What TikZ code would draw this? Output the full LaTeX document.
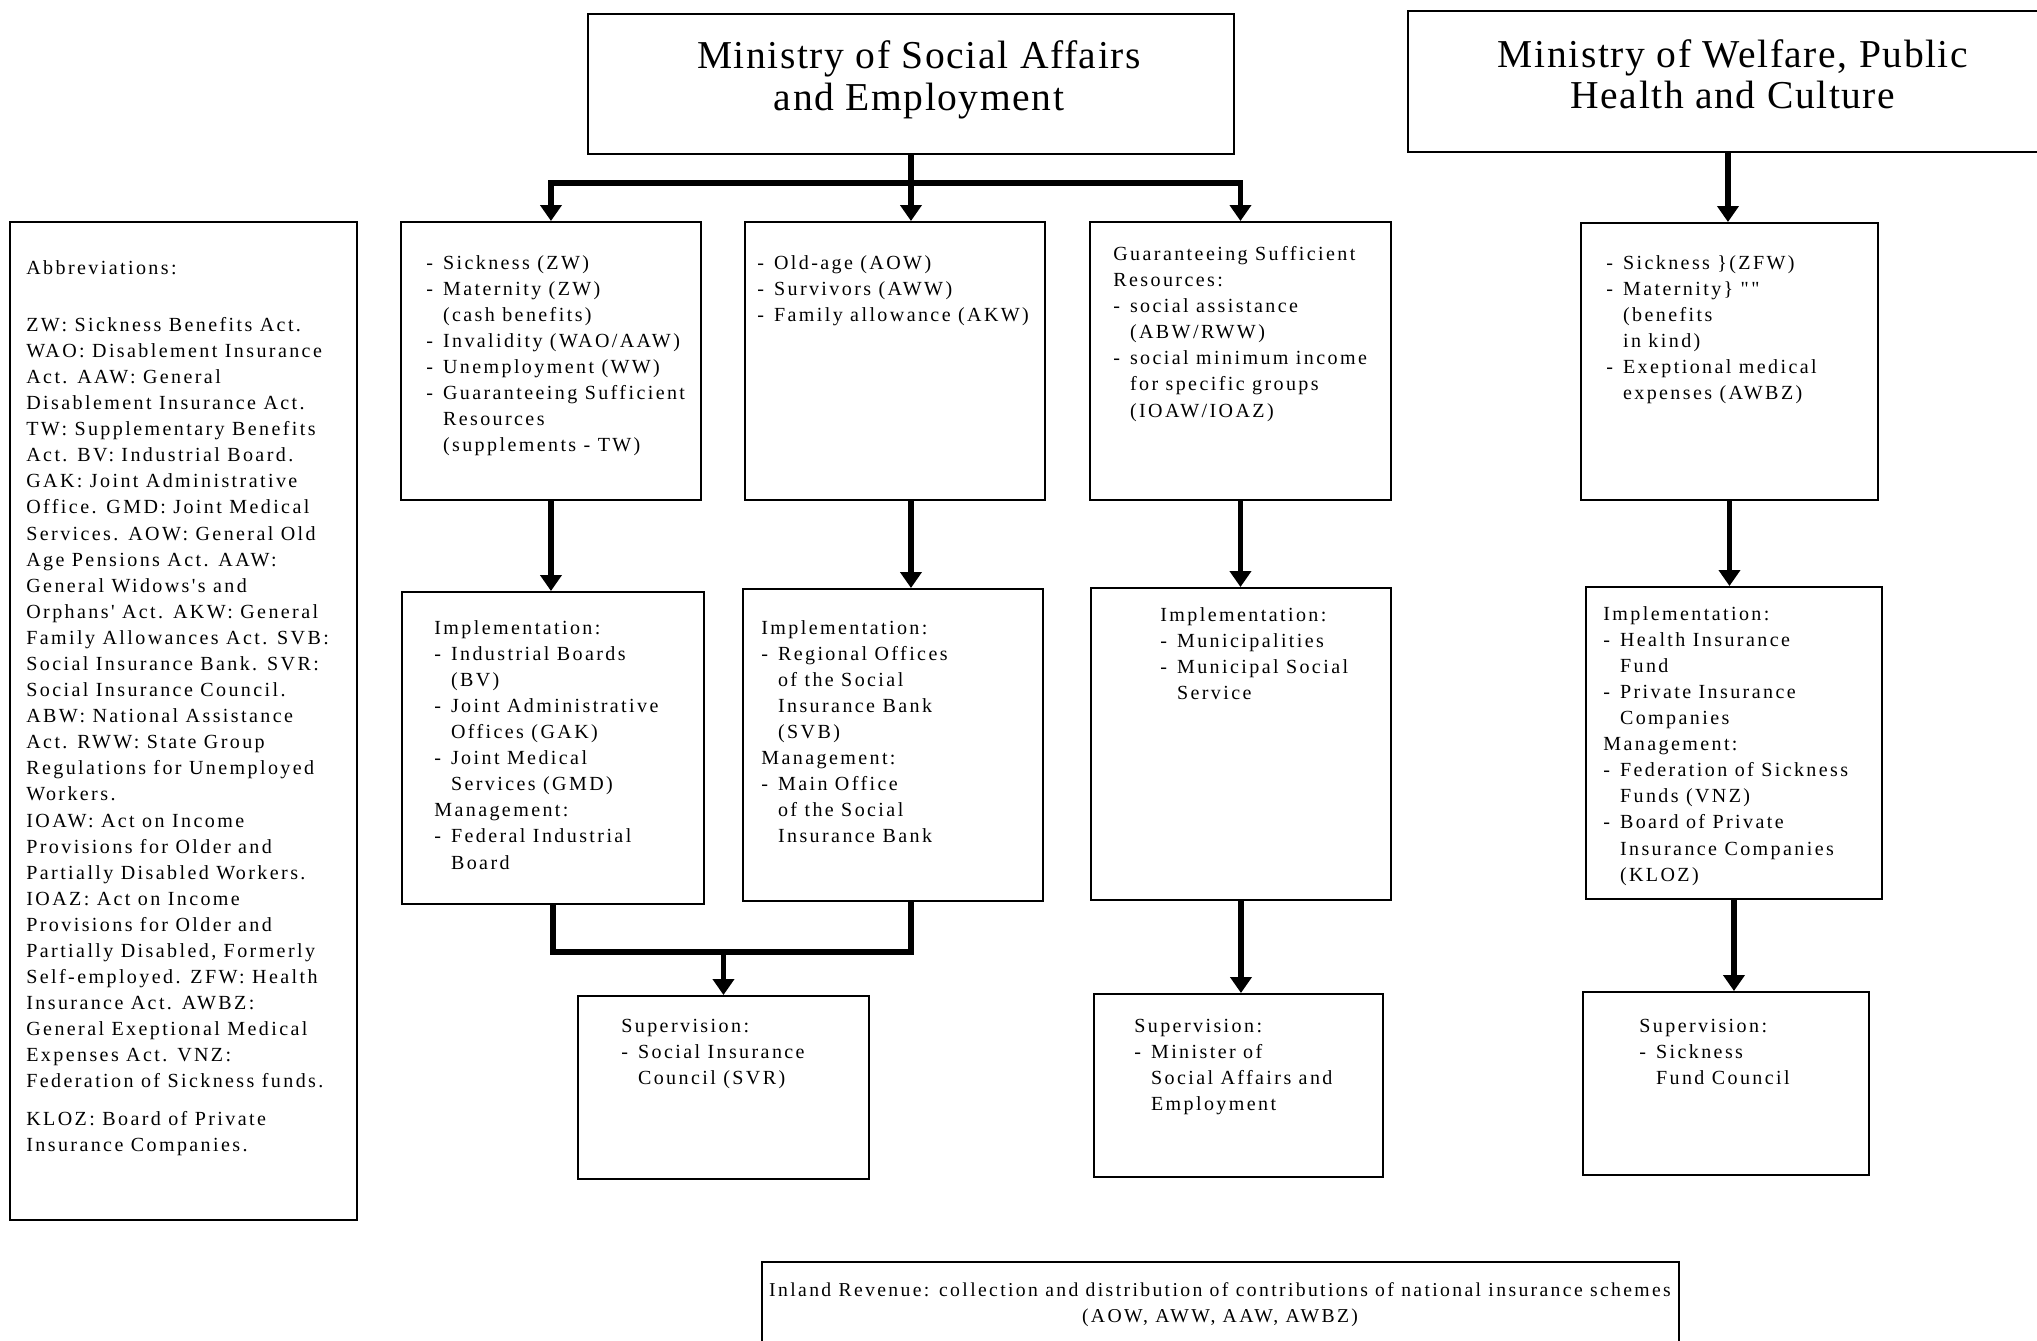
\documentclass[tikz,border=0pt]{standalone}
\usepackage{fontspec}
\setmainfont{Liberation Serif}
\newfontfamily\boxfont{Liberation Serif}[LetterSpace=12]
\newfontfamily\titlefont{Liberation Serif}[LetterSpace=4]
\usetikzlibrary{arrows.meta}
\newcommand{\dsh}{\makebox[9.5pt][l]{-}}
\newcommand{\ind}{\hspace*{9.5pt}}

\begin{document}
\begin{tikzpicture}[x=0.02cm, y=-0.02cm,
    box/.style={draw, line width=1.1pt, inner sep=0pt, anchor=north west},
    sz/.style 2 args={minimum width=#1*0.02cm, minimum height=#2*0.02cm},
    txt/.style={anchor=north west, inner sep=0pt, align=left, font=\boxfont\fontsize{11.4}{14.85}\selectfont},
    ttl/.style={inner sep=0pt, align=center, font=\titlefont\fontsize{22.5}{23.6}\selectfont},
    conn/.style={line width=3pt},
    arr/.style={line width=3pt, -{Triangle[length=3.2mm,width=4.2mm]}}
  ]
    \useasboundingbox (0,0) rectangle (2037,1340);
    \fill[white] (0,0) rectangle (2037,1340);

    \node[box, sz={646}{140}] (SAE) at (587,13) {};
    \node[box, sz={640}{141}] (WPHC) at (1407,10) {};
    \node[box, sz={347}{998}] (ABB) at (9,221) {};
    \node[box, sz={300}{278}] (A1) at (400,221) {};
    \node[box, sz={300}{278}] (A2) at (744,221) {};
    \node[box, sz={301}{278}] (A3) at (1089,221) {};
    \node[box, sz={297}{277}] (A4) at (1580,222) {};
    \node[box, sz={302}{312}] (B1) at (401,591) {};
    \node[box, sz={300}{312}] (B2) at (742,588) {};
    \node[box, sz={300}{312}] (B3) at (1090,587) {};
    \node[box, sz={296}{312}] (B4) at (1585,586) {};
    \node[box, sz={291}{183}] (C1) at (577,995) {};
    \node[box, sz={289}{183}] (C3) at (1093,993) {};
    \node[box, sz={286}{183}] (C4) at (1582,991) {};
    \node[box, sz={917}{120}] (IR) at (761,1261) {};

    \node[ttl] (tSAE) at (919,80) {Ministry of Social Affairs\\and Employment};
    \node[ttl] (tWPHC) at (1733,74) {Ministry of Welfare, Public\\Health and Culture};

    \node[txt] (tABB) at (26,260) {Abbreviations:\\[17.6pt]
      ZW: Sickness Benefits Act.\\
      WAO: Disablement Insurance\\
      Act. AAW: General\\
      Disablement Insurance Act.\\
      TW: Supplementary Benefits\\
      Act. BV: Industrial Board.\\
      GAK: Joint Administrative\\
      Office. GMD: Joint Medical\\
      Services. AOW: General Old\\
      Age Pensions Act. AAW:\\
      General Widows's and\\
      Orphans' Act. AKW: General\\
      Family Allowances Act. SVB:\\
      Social Insurance Bank. SVR:\\
      Social Insurance Council.\\
      ABW: National Assistance\\
      Act. RWW: State Group\\
      Regulations for Unemployed\\
      Workers.\\
      IOAW: Act on Income\\
      Provisions for Older and\\
      Partially Disabled Workers.\\
      IOAZ: Act on Income\\
      Provisions for Older and\\
      Partially Disabled, Formerly\\
      Self-employed. ZFW: Health\\
      Insurance Act. AWBZ:\\
      General Exeptional Medical\\
      Expenses Act. VNZ:\\
      Federation of Sickness funds.\\[6.6pt]
      KLOZ: Board of Private\\
      Insurance Companies.};

    \node[txt] (tA1) at (426,255) {\dsh Sickness (ZW)\\
      \dsh Maternity (ZW)\\
      \ind (cash benefits)\\
      \dsh Invalidity (WAO/AAW)\\
      \dsh Unemployment (WW)\\
      \dsh Guaranteeing Sufficient\\
      \ind Resources\\
      \ind (supplements - TW)};
    \node[txt] (tA2) at (757,255) {\dsh Old-age (AOW)\\
      \dsh Survivors (AWW)\\
      \dsh Family allowance (AKW)};
    \node[txt] (tA3) at (1113,246) {Guaranteeing Sufficient\\
      Resources:\\
      \dsh social assistance\\
      \ind (ABW/RWW)\\
      \dsh social minimum income\\
      \ind for specific groups\\
      \ind (IOAW/IOAZ)};
    \node[txt] (tA4) at (1606,255) {\dsh Sickness \}(ZFW)\\
      \dsh Maternity\} ""\\
      \ind (benefits\\
      \ind in kind)\\
      \dsh Exeptional medical\\
      \ind expenses (AWBZ)};

    \node[txt] (tB1) at (434,620) {Implementation:\\
      \dsh Industrial Boards\\
      \ind (BV)\\
      \dsh Joint Administrative\\
      \ind Offices (GAK)\\
      \dsh Joint Medical\\
      \ind Services (GMD)\\
      Management:\\
      \dsh Federal Industrial\\
      \ind Board};
    \node[txt] (tB2) at (761,620) {Implementation:\\
      \dsh Regional Offices\\
      \ind of the Social\\
      \ind Insurance Bank\\
      \ind (SVB)\\
      Management:\\
      \dsh Main Office\\
      \ind of the Social\\
      \ind Insurance Bank};
    \node[txt] (tB3) at (1160,607) {Implementation:\\
      \dsh Municipalities\\
      \dsh Municipal Social\\
      \ind Service};
    \node[txt] (tB4) at (1603,606) {Implementation:\\
      \dsh Health Insurance\\
      \ind Fund\\
      \dsh Private Insurance\\
      \ind Companies\\
      Management:\\
      \dsh Federation of Sickness\\
      \ind Funds (VNZ)\\
      \dsh Board of Private\\
      \ind Insurance Companies\\
      \ind (KLOZ)};

    \node[txt] (tC1) at (621,1019) {Supervision:\\
      \dsh Social Insurance\\
      \ind Council (SVR)};
    \node[txt] (tC3) at (1134,1019) {Supervision:\\
      \dsh Minister of\\
      \ind Social Affairs and\\
      \ind Employment};
    \node[txt] (tC4) at (1639,1019) {Supervision:\\
      \dsh Sickness\\
      \ind Fund Council};

    \node[txt, anchor=center, align=center, font=\boxfont\fontsize{11.2}{14.85}\selectfont] (tIR) at (1220,1305) {Inland Revenue: collection and distribution of contributions of national insurance schemes\\
      (AOW, AWW, AAW, AWBZ)};

    \coordinate (br) at (0,183);
    \coordinate (jn) at (0,952);
    \draw[conn] (SAE.south) -- (SAE.south |- br);
    \draw[arr] (A3.north |- br) -| (A1.north);
    \draw[arr] (A1.north |- br) -| (A3.north);
    \draw[arr] (SAE.south |- br) -- (SAE.south |- A2.north);
    \draw[arr] (WPHC.south) -- (WPHC.south |- A4.north);

    \foreach \a/\b in {A1/B1, A3/B3, A4/B4, B3/C3, B4/C4}
      \draw[arr] (\a.south) -- (\a.south |- \b.north);
    \draw[arr] (SAE.south |- A2.south) -- (SAE.south |- B2.north);

    \draw[conn] (B1.south) |- (SAE.south |- jn) -- (SAE.south |- B2.south);
    \draw[arr] (C1.north |- jn) -- (C1.north);
\end{tikzpicture}
\end{document}
